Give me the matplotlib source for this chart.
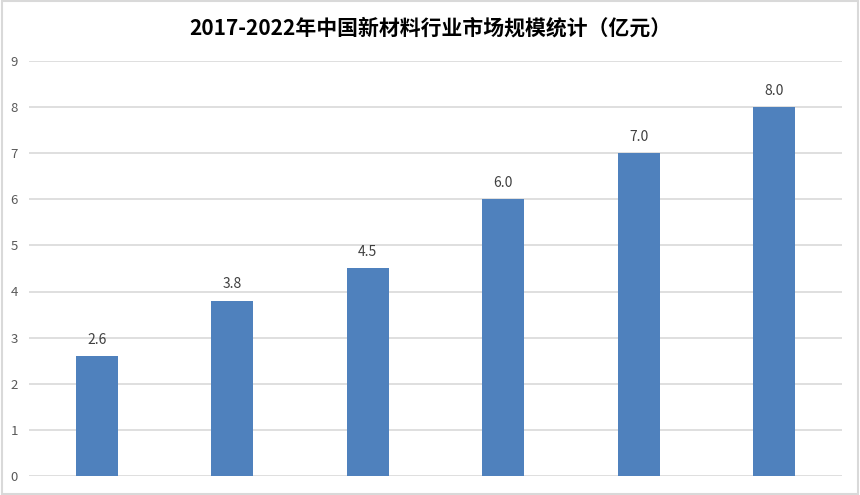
import matplotlib.pyplot as plt
from matplotlib.patches import Rectangle

plt.rcParams['font.family'] = ['Noto Sans CJK SC', 'DejaVu Sans']

years = ['2017', '2018', '2019', '2020', '2021', '2022']
values = [2.6, 3.8, 4.5, 6.0, 7.0, 8.0]
yticks = [0, 1, 2, 3, 4, 5, 6, 7, 8, 9]

fig = plt.figure(figsize=(8.6, 4.95), dpi=100)
ax = fig.add_axes([0.0337, 0.0384, 0.9453, 0.8386])

x = range(len(years))
ax.bar(x, values, width=0.31, color='#4F81BD', zorder=3)
for i, v in zip(x, values):
    ax.text(i, v + 0.2, f'{v:.1f}', ha='center', va='bottom', fontsize=10, color='#404040')

ax.set_xlim(-0.5, len(years) - 0.5)
ax.set_ylim(0, 9)
ax.set_yticks(yticks)
ax.set_xticks([])
ax.tick_params(axis='y', length=0, labelsize=9.5, labelcolor='#595959', pad=8)
ax.grid(axis='y', color='#D9D9D9', linewidth=1.2, zorder=0)
for s in ax.spines.values():
    s.set_visible(False)

fig.text(0.5, 0.943, '2017-2022年中国新材料行业市场规模统计（亿元）', ha='center', va='center',
         fontsize=15, fontweight='bold', color='#000000')

fig.patches.append(Rectangle((0.002, 0.003), 0.996, 0.994, transform=fig.transFigure,
                             fill=False, edgecolor='#D9D9D9', linewidth=1.5))

fig.savefig('out.png', dpi=100)
